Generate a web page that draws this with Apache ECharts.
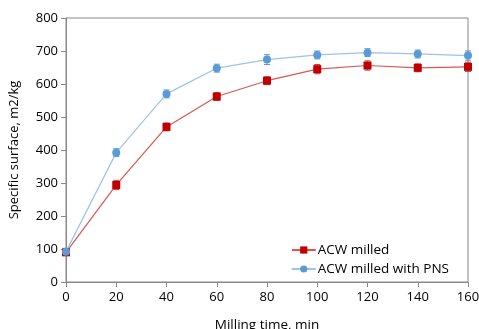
<!DOCTYPE html>
<html><head><meta charset="utf-8">
<script src="https://cdn.jsdelivr.net/npm/echarts@6/dist/echarts.min.js"></script>
<style>html,body{margin:0;padding:0;background:#fff}#c{width:479px;height:329px}</style>
</head><body><div id="c"></div>
<script>
const times = [0, 20, 40, 60, 80, 100, 120, 140, 160];
const acwMilled = [90, 294, 470, 562, 610, 645, 656, 649, 652];
const acwMilledErr = [10, 14, 12, 12, 12, 14, 14, 12, 14];
const acwPns = [92, 392, 570, 648, 674, 688, 695, 691, 686];
const acwPnsErr = [10, 12, 12, 12, 15, 12, 12, 12, 14];
const font = 'Open Sans';

function errSeries(vals, errs, color) {
  return {
    type: 'custom', silent: true, z: 1,
    data: times.map((t, i) => [t, vals[i] - errs[i], vals[i] + errs[i]]),
    renderItem: function (params, api) {
      const lo = api.coord([api.value(0), api.value(1)]);
      const hi = api.coord([api.value(0), api.value(2)]);
      const w = 3;
      const st = { stroke: color, lineWidth: 1 };
      return { type: 'group', children: [
        { type: 'line', shape: { x1: lo[0], y1: lo[1], x2: hi[0], y2: hi[1] }, style: st },
        { type: 'line', shape: { x1: lo[0] - w, y1: lo[1], x2: lo[0] + w, y2: lo[1] }, style: st },
        { type: 'line', shape: { x1: hi[0] - w, y1: hi[1], x2: hi[0] + w, y2: hi[1] }, style: st }
      ]};
    }
  };
}

const chart = echarts.init(document.getElementById('c'));
chart.setOption({
  animation: false,
  grid: { left: 66, right: 11, top: 18, bottom: 47, outerBoundsMode: 'none', containLabel: false,
          show: true, borderColor: '#888', borderWidth: 1 },
  xAxis: {
    type: 'value', min: 0, max: 160, interval: 20,
    name: 'Milling time, min', nameLocation: 'middle', nameGap: 36,
    nameTextStyle: { fontFamily: font, fontSize: 13.5, color: '#000' },
    axisLine: { lineStyle: { color: '#888' } },
    axisTick: { show: true, inside: false, length: 5, lineStyle: { color: '#888' } },
    axisLabel: { fontFamily: font, fontSize: 13, color: '#000', margin: 9 },
    splitLine: { show: false }
  },
  yAxis: {
    type: 'value', min: 0, max: 800, interval: 100,
    name: 'Specific surface, m2/kg', nameLocation: 'middle', nameGap: 45,
    nameTextStyle: { fontFamily: font, fontSize: 13, color: '#000' },
    axisLine: { show: true, lineStyle: { color: '#888' } },
    axisTick: { show: true, inside: false, length: 5, lineStyle: { color: '#888' } },
    axisLabel: { fontFamily: font, fontSize: 13, color: '#000', margin: 8 },
    splitLine: { show: false }
  },
  legend: {
    right: 25, bottom: 48, orient: 'vertical', itemGap: 5,
    itemWidth: 24, itemHeight: 9,
    textStyle: { fontFamily: font, fontSize: 13.5, color: '#000', padding: [0, 0, 0, -3] },
    data: ['ACW milled', 'ACW milled with PNS']
  },
  series: [
    errSeries(acwMilled, acwMilledErr, '#d04040'),
    errSeries(acwPns, acwPnsErr, '#5b9bd5'),
    {
      name: 'ACW milled', type: 'line', z: 3,
      data: times.map((t, i) => [t, acwMilled[i]]),
      symbol: 'rect', symbolSize: 8,
      itemStyle: { color: '#c00000' },
      lineStyle: { color: '#dd5555', width: 1.2 }
    },
    {
      name: 'ACW milled with PNS', type: 'line', z: 3,
      data: times.map((t, i) => [t, acwPns[i]]),
      symbol: 'circle', symbolSize: 8,
      itemStyle: { color: '#5b9bd5' },
      lineStyle: { color: '#9dc3e6', width: 1.2 }
    }
  ]
});
</script></body></html>
